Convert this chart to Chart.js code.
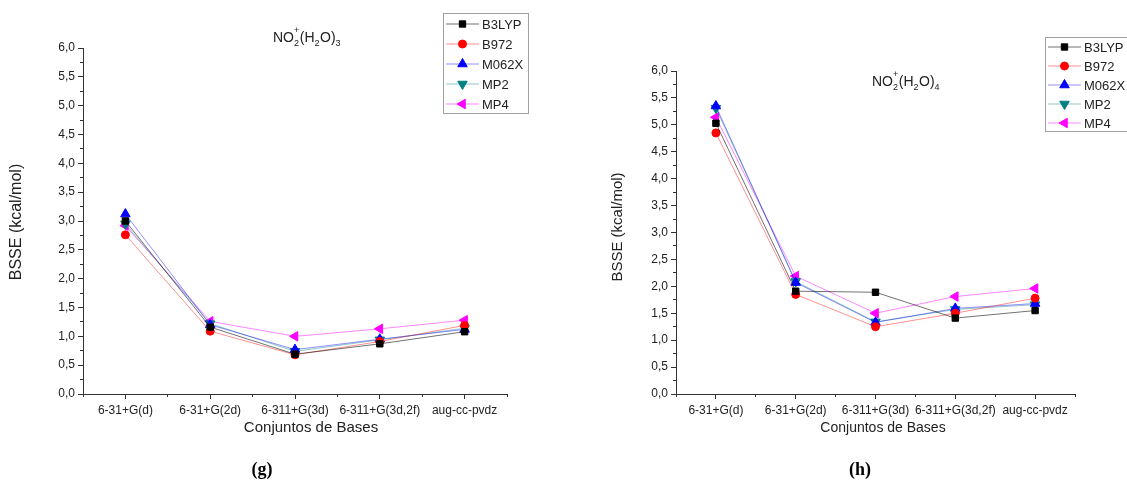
<!DOCTYPE html>
<html>
<head>
<meta charset="utf-8">
<script src="https://cdn.jsdelivr.net/npm/chart.js@4.4.1/dist/chart.umd.min.js"></script>
<style>
body{margin:0;background:#fff;width:1127px;height:483px;overflow:hidden;position:relative;}
canvas{position:absolute;top:0;}
#chart_g{left:0;}
#chart_h{left:560px;}
</style>
</head>
<body>
<canvas id="chart_g" width="560" height="483"></canvas>
<canvas id="chart_h" width="567" height="483"></canvas>
<script>
var categories = ["6-31+G(d)", "6-31+G(2d)", "6-311+G(3d)", "6-311+G(3d,2f)", "aug-cc-pvdz"];
var seriesNames = ["B3LYP", "B972", "M062X", "MP2", "MP4"];
var yTicks = [0, 0.5, 1, 1.5, 2, 2.5, 3, 3.5, 4, 4.5, 5, 5.5, 6];

// (g) NO2+(H2O)3
var g_B3LYP = [3.00, 1.16, 0.69, 0.87, 1.08];
var g_B972  = [2.76, 1.09, 0.68, 0.91, 1.19];
var g_M062X = [3.12, 1.20, 0.77, 0.95, 1.12];
var g_MP2   = [2.95, 1.22, 0.74, 0.94, 1.14];
var g_MP4   = [2.92, 1.26, 1.00, 1.13, 1.28];

// (h) NO2+(H2O)4
var h_B3LYP = [5.03, 1.91, 1.89, 1.41, 1.55];
var h_B972  = [4.85, 1.85, 1.25, 1.50, 1.78];
var h_M062X = [5.35, 2.07, 1.33, 1.59, 1.68];
var h_MP2   = [5.31, 2.09, 1.34, 1.57, 1.66];
var h_MP4   = [5.14, 2.19, 1.50, 1.81, 1.96];

var seriesColors = ["#000000", "#ff0000", "#0000ff", "#008080", "#ff00ff"];
var lineColors = ["rgba(0,0,0,0.7)", "rgba(255,0,0,0.55)", "rgba(0,0,255,0.55)", "rgba(0,128,128,0.55)", "rgba(255,0,255,0.6)"];
var seriesMarkers = ["rect", "circle", "triangle", "triangle", "triangle"];
var seriesRotation = [0, 0, 0, 180, 270];
var seriesRadius = [4.5, 4, 5.5, 5.5, 5.5];

var fontSans = '"Liberation Sans", Arial, sans-serif';

function fmtTick(v){
  return Number(v).toFixed(1).replace(".", ",");
}

function drawChem(ctx, x, y, parts, big, small){
  for (var i = 0; i < parts.length; i++){
    var p = parts[i];
    if (p.t){
      ctx.font = big + "px " + fontSans;
      ctx.fillText(p.t, x, y);
      x += ctx.measureText(p.t).width;
    } else {
      ctx.font = small + "px " + fontSans;
      var w = 0;
      if (p.sub){ ctx.fillText(p.sub, x, y + 4); w = ctx.measureText(p.sub).width; }
      if (p.sup){ ctx.fillText(p.sup, x, y - 9); w = Math.max(w, ctx.measureText(p.sup).width); }
      x += w + 0.5;
    }
  }
}

var panelText = {
  id: "panelText",
  afterDraw: function(chart, args, o){
    var ctx = chart.ctx;
    ctx.save();
    ctx.fillStyle = "#222";

    // y axis title
    ctx.save();
    ctx.font = o.yTitleSize + "px " + fontSans;
    ctx.textAlign = "center";
    ctx.textBaseline = "middle";
    ctx.translate(o.yTitleX, o.yTitleY);
    ctx.rotate(-Math.PI / 2);
    ctx.fillText("BSSE (kcal/mol)", 0, 0);
    ctx.restore();

    // x axis title
    ctx.font = o.xTitleSize + "px " + fontSans;
    ctx.textAlign = "center";
    ctx.textBaseline = "middle";
    ctx.fillText("Conjuntos de Bases", o.xTitleX, o.xTitleY);

    // panel letter
    ctx.fillStyle = "#000";
    ctx.font = 'bold 18px "Liberation Serif", "Times New Roman", serif';
    ctx.fillText(o.letter, o.letterX, o.letterY);

    // chemical title
    ctx.fillStyle = "#222";
    ctx.textAlign = "left";
    ctx.textBaseline = "alphabetic";
    drawChem(ctx, o.titleX, o.titleY, o.title, 14, 9);

    // legend box
    var L = o.legend;
    ctx.strokeStyle = "#a0a0a0";
    ctx.lineWidth = 1;
    ctx.strokeRect(L.x + 0.5, L.y + 0.5, L.w, L.h);
    ctx.font = L.size + "px " + fontSans;
    ctx.textBaseline = "middle";
    var ds = chart.data.datasets;
    for (var i = 0; i < ds.length; i++){
      var yy = L.y + L.first + i * L.row;
      ctx.strokeStyle = ds[i].borderColor;
      ctx.lineWidth = 0.8;
      ctx.beginPath();
      ctx.moveTo(L.x + 3, yy);
      ctx.lineTo(L.x + 3 + L.line, yy);
      ctx.stroke();
      ctx.fillStyle = ds[i].pointBackgroundColor;
      ctx.strokeStyle = ds[i].pointBorderColor;
      ctx.lineWidth = 1;
      Chart.helpers.drawPoint(ctx, {pointStyle: ds[i].pointStyle, radius: ds[i].pointRadius, rotation: ds[i].rotation, borderWidth: 1}, L.x + 3 + L.line / 2, yy);
      ctx.fillStyle = "#222";
      ctx.fillText(ds[i].label, L.x + 6 + L.line, yy + 1);
    }
    ctx.restore();
  }
};

function buildChart(canvasId, seriesData, o){
  var datasets = [];
  for (var i = 0; i < seriesNames.length; i++){
    datasets.push({
      label: seriesNames[i],
      data: seriesData[i],
      borderColor: lineColors[i],
      backgroundColor: seriesColors[i],
      pointBackgroundColor: seriesColors[i],
      pointBorderColor: seriesColors[i],
      borderWidth: 0.8,
      pointStyle: seriesMarkers[i],
      rotation: seriesRotation[i],
      pointRadius: seriesRadius[i],
      pointHoverRadius: seriesRadius[i],
      pointBorderWidth: 1,
      tension: 0,
      xAxisID: "x",
      yAxisID: "y"
    });
  }

  var axisColor = "#333";
  var tickFont = {family: fontSans, size: 12};

  var config = {
    type: "line",
    data: {labels: categories, datasets: datasets},
    options: {
      responsive: false,
      animation: false,
      layout: {padding: {left: 0, top: o.top, right: o.right, bottom: 0}},
      plugins: {
        legend: {display: false},
        tooltip: {enabled: false},
        panelText: o
      },
      scales: {
        x: {
          type: "category", labels: categories, offset: true, weight: 1,
          grid: {drawOnChartArea: false, tickLength: 5, color: axisColor, offset: false},
          border: {color: axisColor},
          ticks: {font: tickFont, color: "#222", padding: 4, maxRotation: 0, autoSkip: false},
          afterFit: function(s){ s.height = 89; }
        },
        xMinor: {
          type: "category", labels: categories, offset: true, position: "bottom", weight: 0,
          grid: {drawOnChartArea: false, offset: true, tickLength: 3, color: axisColor},
          border: {display: false},
          ticks: {display: false},
          afterFit: function(s){ s.height = 0; }
        },
        y: {
          type: "linear", min: yTicks[0], max: yTicks[yTicks.length - 1], position: "left", weight: 1,
          afterBuildTicks: function(s){ s.ticks = yTicks.map(function(v){ return {value: v}; }); },
          ticks: {font: tickFont, color: "#222", padding: 3, callback: fmtTick},
          grid: {drawOnChartArea: false, tickLength: 5, color: axisColor},
          border: {color: axisColor},
          afterFit: function(s){ s.width = o.yWidth; }
        },
        yMinor: {
          type: "linear", min: 0, max: 6, position: "left", weight: 0,
          ticks: {display: false, stepSize: 0.25},
          grid: {drawOnChartArea: false, tickLength: 3, color: axisColor},
          border: {display: false},
          afterFit: function(s){ s.width = 0; }
        }
      }
    },
    plugins: [panelText]
  };

  return new Chart(document.getElementById(canvasId).getContext("2d"), config);
}

function load(){
  buildChart("chart_g", [g_B3LYP, g_B972, g_M062X, g_MP2, g_MP4], {
    top: 48, right: 53, yWidth: 83,
    yTitleX: 17, yTitleY: 222, yTitleSize: 16,
    xTitleX: 311, xTitleY: 428, xTitleSize: 15,
    letter: "(g)", letterX: 262, letterY: 470,
    titleX: 273, titleY: 42,
    title: [{t: "NO"}, {sub: "2", sup: "+"}, {t: "(H"}, {sub: "2"}, {t: "O)"}, {sub: "3"}],
    legend: {x: 443, y: 13, w: 85, h: 100, first: 11, row: 20, line: 33, size: 13}
  });
  buildChart("chart_h", [h_B3LYP, h_B972, h_M062X, h_MP2, h_MP4], {
    top: 71, right: 52, yWidth: 116,
    yTitleX: 58, yTitleY: 227, yTitleSize: 15,
    xTitleX: 323, xTitleY: 428, xTitleSize: 14,
    letter: "(h)", letterX: 300, letterY: 470,
    titleX: 312, titleY: 86,
    title: [{t: "NO"}, {sub: "2", sup: "+"}, {t: "(H"}, {sub: "2"}, {t: "O)"}, {sub: "4"}],
    legend: {x: 485, y: 37, w: 100, h: 94, first: 10, row: 19, line: 33, size: 13}
  });
}

document.addEventListener("DOMContentLoaded", load, false);
</script>
</body>
</html>
